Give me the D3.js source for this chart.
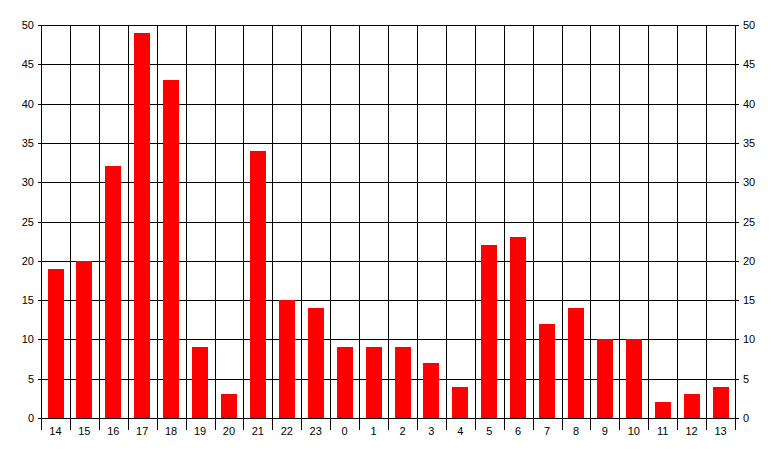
<!DOCTYPE html>
<html><head><meta charset="utf-8">
<script src="https://cdn.jsdelivr.net/npm/d3@7"></script>
<style>
html,body{margin:0;padding:0;background:#fff;}
svg{display:block;}
text{font-family:Arial,"Liberation Sans",sans-serif;font-size:11px;fill:#000;}
</style></head><body>
<svg id="c" width="777" height="457"></svg>
<script>
const categories = ["14","15","16","17","18","19","20","21","22","23","0","1","2","3","4","5","6","7","8","9","10","11","12","13"];
const values = [19,20,32,49,43,9,3,34,15,14,9,9,9,7,4,22,23,12,14,10,10,2,3,4];
const yTicks = [0,5,10,15,20,25,30,35,40,45,50];

(function(){
const svg = d3.select("#c");
const mL = 41, mR = 735, mT = 25, mB = 418;

const xCell = d3.scaleBand().domain(categories).range([mL, mR]).padding(0);
const xBar = d3.scaleBand().domain(categories).range([mL, mR]).paddingInner(0.45).paddingOuter(0.225);
const y = d3.scaleLinear().domain([0, 50]).range([mB, mT]);

const g = svg.append("g");
const px = v => Math.round(v) + 0.5;

g.selectAll("line.h").data(yTicks).enter().append("line")
  .attr("x1", mL - 3).attr("x2", mR + 4)
  .attr("y1", d => px(y(d))).attr("y2", d => px(y(d)))
  .attr("stroke", "#000").attr("stroke-width", 1);

const bounds = categories.map(c => xCell(c)).concat([mR]);
g.selectAll("line.v").data(bounds).enter().append("line")
  .attr("x1", d => px(d)).attr("x2", d => px(d))
  .attr("y1", mT).attr("y2", mB + 12)
  .attr("stroke", "#000").attr("stroke-width", 1);

g.selectAll("rect.bar").data(values).enter().append("rect")
  .attr("x", (d, i) => Math.round(xBar(categories[i])))
  .attr("width", Math.round(xBar.bandwidth()))
  .attr("y", d => Math.round(y(d)))
  .attr("height", d => Math.round(y(0)) - Math.round(y(d)))
  .attr("fill", "#ff0000");

g.append("line").attr("x1", mL - 3).attr("x2", mR + 4)
  .attr("y1", px(y(0))).attr("y2", px(y(0))).attr("stroke", "#000");

g.selectAll("text.yl").data(yTicks).enter().append("text")
  .attr("x", 34).attr("y", d => y(d) + 4)
  .attr("text-anchor", "end").text(d => d);
g.selectAll("text.yr").data(yTicks).enter().append("text")
  .attr("x", 743).attr("y", d => y(d) + 4)
  .attr("text-anchor", "start").text(d => d);
g.selectAll("text.xl").data(categories).enter().append("text")
  .attr("x", d => xCell(d) + xCell.bandwidth() / 2).attr("y", 435)
  .attr("text-anchor", "middle").text(d => d);
})();
</script>
</body></html>
